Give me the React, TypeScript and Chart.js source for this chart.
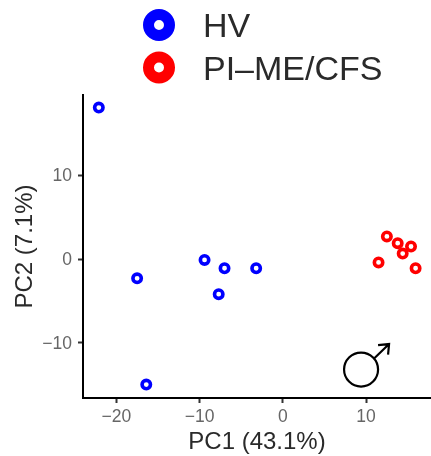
import React, { useEffect, useRef } from "react";
import { Chart, registerables } from "chart.js";

Chart.register(...registerables);

const hvX = [-22.1, -17.5, -16.4, -9.4, -7.0, -7.7, -3.2];
const hvY = [18.1, -2.3, -15.0, -0.1, -1.1, -4.2, -1.1];
const pmX = [12.5, 13.8, 15.4, 14.4, 11.5, 15.95];
const pmY = [2.7, 1.9, 1.5, 0.65, -0.4, -1.1];
const seriesNames = ["HV", "PI\u2013ME/CFS"];
const seriesColors = ["#0000ff", "#ff0000"];
const xTicks = [-20, -10, 0, 10];
const yTicks = [-10, 0, 10];
const xTitle = "PC1 (43.1%)";
const yTitle = "PC2 (7.1%)";
const maleSymbol = { x: 9.4, y: -13.2 };

const FONT = '"Liberation Sans", Arial, sans-serif';
const minus = (v: number) => String(v).replace("-", "\u2212");

const toPts = (xs: number[], ys: number[]) => xs.map((x, i) => ({ x, y: ys[i] }));

const overlay = {
  id: "overlay",
  afterDraw(chart: any) {
    const c = chart.ctx;
    c.save();
    // legend
    chart.data.datasets.forEach((d: any, i: number) => {
      const y = 25 + i * 42.5;
      c.beginPath();
      c.arc(159, y, 10.5, 0, Math.PI * 2);
      c.lineWidth = 11;
      c.strokeStyle = d.borderColor;
      c.stroke();
      c.fillStyle = "#2a2a2a";
      c.font = `34px ${FONT}`;
      c.textBaseline = "alphabetic";
      c.textAlign = "left";
      c.fillText(d.label, 203, y + 12);
    });
    // male symbol
    const cx = chart.scales.x.getPixelForValue(maleSymbol.x);
    const cy = chart.scales.y.getPixelForValue(maleSymbol.y);
    c.strokeStyle = "#000";
    c.lineWidth = 2.2;
    c.beginPath();
    c.arc(cx, cy, 17, 0, Math.PI * 2);
    c.stroke();
    c.beginPath();
    c.moveTo(cx + 13, cy - 11);
    c.lineTo(cx + 28, cy - 25.5);
    c.moveTo(cx + 17, cy - 24.5);
    c.lineTo(cx + 28, cy - 25.5);
    c.lineTo(cx + 27, cy - 15);
    c.stroke();
    c.restore();
  },
};

export default function App() {
  const ref = useRef<HTMLCanvasElement>(null);
  useEffect(() => {
    document.body.style.margin = "0";
    const chart = new Chart(ref.current!, {
      type: "scatter",
      data: {
        datasets: [
          { label: seriesNames[0], data: toPts(hvX, hvY), borderColor: seriesColors[0] },
          { label: seriesNames[1], data: toPts(pmX, pmY), borderColor: seriesColors[1] },
        ].map((d) => ({
          ...d,
          backgroundColor: "transparent",
          pointRadius: 4.2,
          borderWidth: 3.6,
          pointHoverRadius: 4.2,
        })),
      },
      plugins: [overlay],
      options: {
        animation: false,
        responsive: false,
        layout: { autoPadding: false, padding: { top: 95, right: 0, left: 0, bottom: 0 } },
        plugins: { legend: { display: false }, tooltip: { enabled: false } },
        scales: {
          x: {
            type: "linear",
            min: -24,
            max: 17.8,
            afterFit: (s: any) => { s.height = 58; s.paddingRight = 0; s.paddingLeft = 0; },
            afterBuildTicks: (s: any) => { s.ticks = xTicks.map((value) => ({ value })); },
            border: { color: "#000", width: 2 },
            grid: { drawOnChartArea: false, tickLength: 5, tickColor: "#333", tickWidth: 2 },
            ticks: {
              color: "#666",
              font: { family: FONT, size: 17.5 },
              padding: 4,
              maxRotation: 0,
              callback: (v: any) => minus(v),
            },
            title: {
              display: true,
              text: xTitle,
              color: "#2a2a2a",
              font: { family: FONT, size: 24 },
              padding: { top: 0, bottom: -1 },
            },
          },
          y: {
            type: "linear",
            min: -16.6,
            max: 19.6,
            afterFit: (s: any) => { s.width = 83; s.paddingTop = 0; s.paddingBottom = 0; },
            afterBuildTicks: (s: any) => { s.ticks = yTicks.map((value) => ({ value })); },
            border: { color: "#000", width: 2 },
            grid: { drawOnChartArea: false, tickLength: 5, tickColor: "#333", tickWidth: 2 },
            ticks: {
              color: "#666",
              font: { family: FONT, size: 17.5 },
              padding: 6,
              labelOffset: 1,
              callback: (v: any) => minus(v),
            },
            title: {
              display: true,
              text: yTitle,
              color: "#2a2a2a",
              font: { family: FONT, size: 24 },
              padding: { top: 11, bottom: 0 },
            },
          },
        },
      },
    } as any);
    return () => chart.destroy();
  }, []);
  return <canvas ref={ref} width={431} height={456} style={{ display: "block" }} />;
}
